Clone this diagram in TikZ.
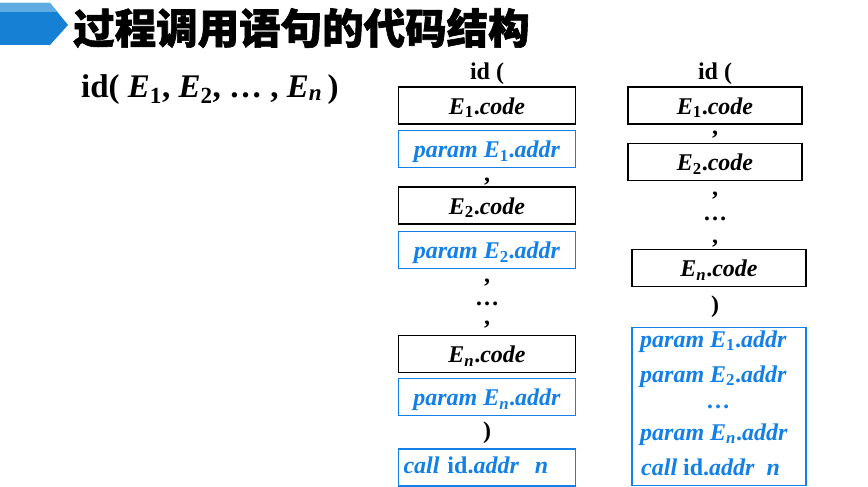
\documentclass[tikz,border=0pt]{standalone}
\usepackage{fontspec}
\setmainfont{Liberation Serif}
\newfontfamily\cjk{Noto Sans CJK SC}[BoldFeatures={FakeBold=1.5}]
\definecolor{bl}{RGB}{18,128,230}
\definecolor{hdark}{RGB}{22,128,212}
\definecolor{hlight}{RGB}{95,172,226}
\newcommand{\Es}[1]{\textit{E}\textsubscript{#1}}
\newcommand{\code}[1]{\Es{#1}.\textit{code}}
\newcommand{\paramE}[1]{\textit{param} \Es{#1}.\textit{addr}}
\newcommand{\callid}{\textit{call} id.\textit{addr}\ \ \textit{n}}
\begin{document}
\begin{tikzpicture}[x=1pt,y=-1pt,
  txt/.style={font=\bfseries\fontsize{24}{28}\selectfont, inner sep=0pt},
  cbox/.style={txt, draw=black, line width=1.2pt, minimum height=37pt, text height=17.5pt, text depth=0pt},
  bbox/.style={txt, draw=bl, text=bl, line width=1.2pt, minimum height=37pt, text height=17.5pt, text depth=0pt},
  punct/.style={txt, anchor=base},
  bline/.style={txt, text=bl, anchor=base west}
]
\useasboundingbox (0,0) rectangle (868,487);
% header
\fill[hdark] (0,3) -- (50,3) -- (68,25) -- (50,45) -- (0,45) -- cycle;
\fill[hlight] (0,3) -- (50,3) -- (57.5,12) -- (0,12) -- cycle;
\node[anchor=west, inner sep=0pt, font=\cjk\bfseries\fontsize{41.5}{44}\selectfont] (title) at (73,28) {过程调用语句的代码结构};
\node[anchor=base west, inner sep=0pt, font=\bfseries\fontsize{33}{36}\selectfont] (expr) at (81,97)
  {id( \Es{1}, \Es{2}, … , \Es{\textit{n}}\,)};
% left column
\node[punct] (lid) at (487,80) {id (};
\node[cbox, minimum width=177pt] (l1) at (487,105.5) {\code{1}};
\node[bbox, minimum width=177pt] (lp1) at (487,149) {\paramE{1}};
\node[punct] (lc1) at (487,181) {,};
\node[cbox, minimum width=177pt] (l2) at (487,205.5) {\code{2}};
\node[bbox, minimum width=177pt] (lp2) at (487,250) {\paramE{2}};
\node[punct] (lc2) at (487,282) {,};
\node[punct] (ld) at (487,305) {…};
\node[punct] (lc3) at (487,324) {,};
\node[cbox, minimum width=177pt] (ln) at (487,354) {\code{\textit{n}}};
\node[bbox, minimum width=177pt] (lpn) at (487,397) {\paramE{\textit{n}}};
\node[punct] (lrp) at (487,438) {)};
\node[bbox, minimum width=177pt, text width=167pt, align=left, text height=16pt, text depth=5pt] (lcall) at (487,467.5) {\callid};
% right column
\node[punct] (rid) at (715,80) {id (};
\node[cbox, minimum width=174pt] (r1) at (715,105.5) {\code{1}};
\node[punct] (rc1) at (715,134) {,};
\node[cbox, minimum width=174pt] (r2) at (715,162) {\code{2}};
\node[punct] (rc2) at (715,195) {,};
\node[punct] (rd) at (715,220) {…};
\node[punct] (rc3) at (715,243) {,};
\node[cbox, minimum width=174pt] (rn) at (719,268) {\code{\textit{n}}};
\node[punct] (rrp) at (715,312) {)};
\node[draw=bl, line width=1.6pt, minimum width=174pt, minimum height=158pt, inner sep=0pt] (big) at (719,406.5) {};
\node[bline] (b1) at (640,347) {\paramE{1}};
\node[bline] (b2) at (640,382) {\paramE{2}};
\node[txt, text=bl, anchor=base] (b3) at (718,408) {…};
\node[bline] (b4) at (640,440) {\paramE{\textit{n}}};
\node[bline] (b5) at (641,475) {\callid};
\end{tikzpicture}
\end{document}
